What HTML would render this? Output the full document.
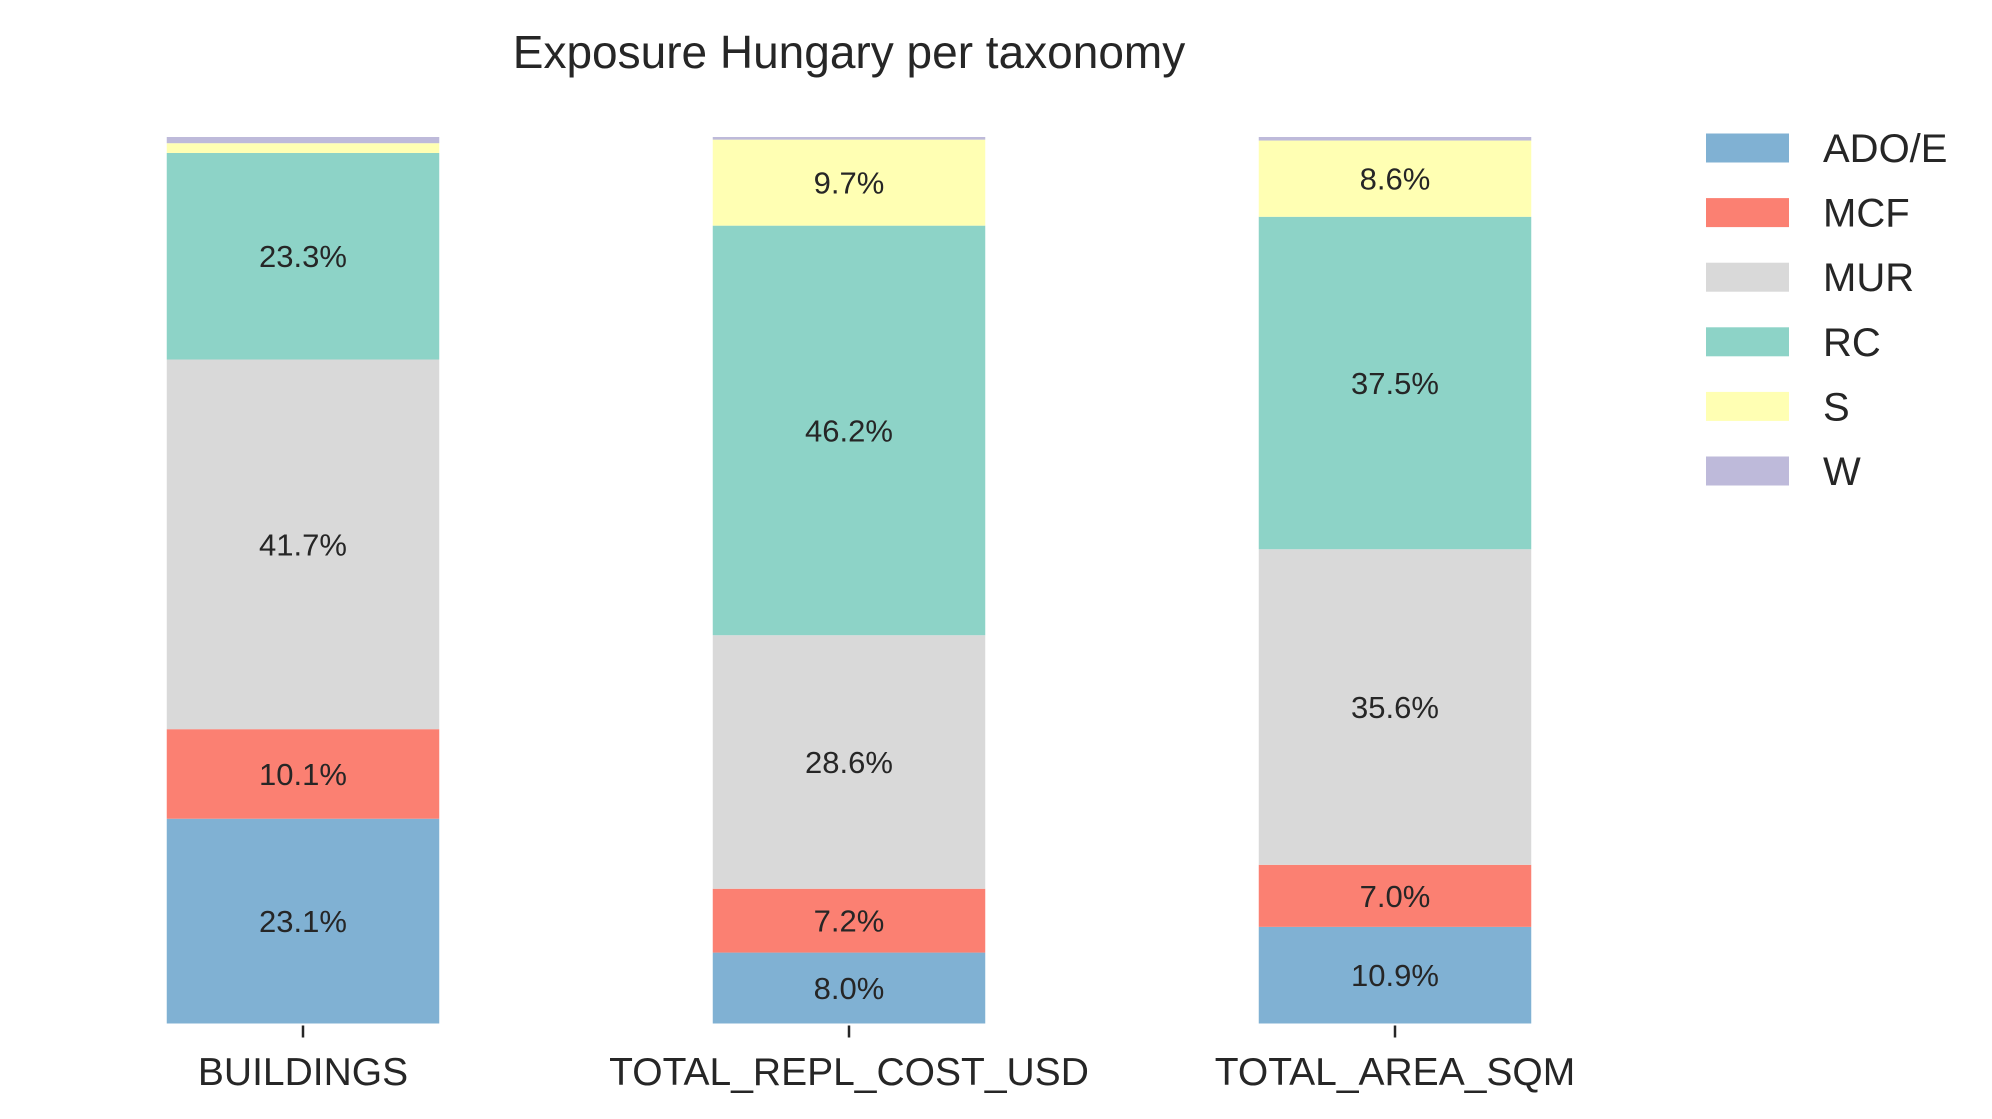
<!DOCTYPE html>
<html><head><meta charset="utf-8"><style>
html,body{margin:0;padding:0;background:#fff;}
svg{display:block;font-family:"Liberation Sans",sans-serif;}
</style></head><body>
<svg id="chart" width="1992" height="1119" viewBox="0 0 1992 1119" xmlns="http://www.w3.org/2000/svg">
<text x="849" y="68" text-anchor="middle" font-size="46" fill="#262626">Exposure Hungary per taxonomy</text>
<g id="bars"></g>
<g id="legend"></g>
</svg>
<script>
const categories = ["BUILDINGS","TOTAL_REPL_COST_USD","TOTAL_AREA_SQM"];
const seriesNames = ["ADO/E","MCF","MUR","RC","S","W"];
const seriesColors = ["#80b1d3","#fb8072","#d9d9d9","#8dd3c7","#ffffb3","#bebada"];
const adoValues = [23.1, 8.0, 10.9];
const mcfValues = [10.1, 7.2, 7.0];
const murValues = [41.7, 28.6, 35.6];
const rcValues  = [23.3, 46.2, 37.5];
const sValues   = [1.1, 9.7, 8.6];
const wValues   = [0.7, 0.3, 0.4];
const seriesValues = [adoValues, mcfValues, murValues, rcValues, sValues, wValues];

const NS = "http://www.w3.org/2000/svg";
const plotTop = 137, plotBottom = 1023.5;
const firstCenter = 303, step = 546, barW = 272.5;
function xCenter(i){ return firstCenter + i*step; }
function yScale(p){ return plotBottom - (plotBottom - plotTop) * p / 100; }

const bars = document.getElementById('bars');
categories.forEach((cat, i) => {
  let totals = seriesValues.reduce((a, s) => a + s[i], 0);
  let cum = 0;
  seriesValues.forEach((s, k) => {
    const v = s[i] / totals * 100;
    const y0 = yScale(cum), y1 = yScale(cum + v);
    const r = document.createElementNS(NS, 'rect');
    
    
    r.setAttribute('x', xCenter(i) - barW/2);
    r.setAttribute('y', y1);
    r.setAttribute('width', barW);
    r.setAttribute('height', y0 - y1);
    r.setAttribute('fill', seriesColors[k]);
    bars.appendChild(r);
    if (s[i] >= 5) {
      const t = document.createElementNS(NS, 'text');
      
      
      t.setAttribute('x', xCenter(i));
      t.setAttribute('y', (y0 + y1)/2 + 11);
      t.setAttribute('text-anchor', 'middle');
      t.setAttribute('font-size', '31');
      t.setAttribute('fill', '#262626');
      t.textContent = s[i].toFixed(1) + '%';
      bars.appendChild(t);
    }
    cum += v;
  });
  const tk = document.createElementNS(NS, 'line');
  
  
  tk.setAttribute('x1', xCenter(i)); tk.setAttribute('x2', xCenter(i));
  tk.setAttribute('y1', plotBottom + 2); tk.setAttribute('y2', plotBottom + 14);
  tk.setAttribute('stroke', '#262626'); tk.setAttribute('stroke-width', '2.5');
  bars.appendChild(tk);
  const lb = document.createElementNS(NS, 'text');
  
  
  lb.setAttribute('x', xCenter(i));
  lb.setAttribute('y', 1085);
  lb.setAttribute('text-anchor', 'middle');
  lb.setAttribute('font-size', '39');
  lb.setAttribute('fill', '#262626');
  lb.textContent = cat;
  bars.appendChild(lb);
});

const legend = document.getElementById('legend');
seriesNames.forEach((n, k) => {
  const cy = 148 + k*64.6;
  const r = document.createElementNS(NS, 'rect');
  
  
  r.setAttribute('x', 1706); r.setAttribute('y', cy - 14.5);
  r.setAttribute('width', 83); r.setAttribute('height', 29);
  r.setAttribute('fill', seriesColors[k]);
  legend.appendChild(r);
  const t = document.createElementNS(NS, 'text');
  
  
  t.setAttribute('x', 1823); t.setAttribute('y', cy + 14);
  t.setAttribute('font-size', '40');
  t.setAttribute('fill', '#262626');
  t.textContent = n;
  legend.appendChild(t);
});
</script>
</body></html>
